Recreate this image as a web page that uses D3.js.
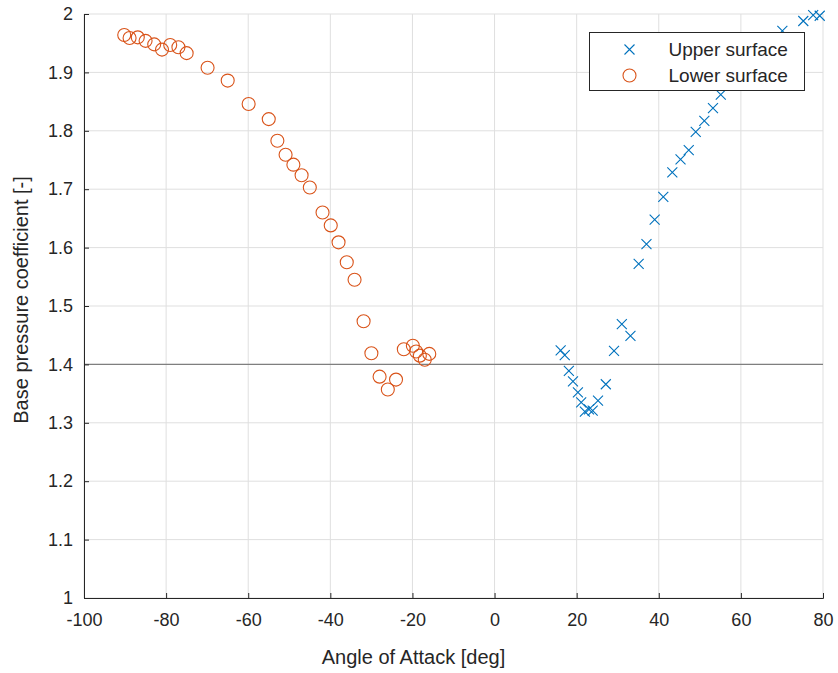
<!DOCTYPE html>
<html>
<head>
<meta charset="utf-8">
<script src="https://cdn.jsdelivr.net/npm/d3@7"></script>
<style>
  body { margin: 0; background: #fff; }
  text { font-family: "Liberation Sans", Arial, sans-serif; fill: #262626; }
</style>
</head>
<body>
<script>
'use strict';

// upper surface (crosses)
const upperAoa = [16.1, 17.1, 18.1, 19.1, 20.3, 21.1, 22.0, 23.0, 23.9, 25.2, 27.1, 29.1, 31.0, 33.1,
                  35.1, 37.0, 39.0, 41.1, 43.3, 45.3, 47.3, 49.0, 51.1, 53.2, 55.1, 57.0, 62.0, 66.0,
                  70.1, 75.2, 77.6, 79.2];
const upperCp  = [1.424, 1.416, 1.389, 1.371, 1.352, 1.335, 1.319, 1.323, 1.321, 1.338, 1.366, 1.423, 1.469, 1.449,
                  1.572, 1.606, 1.648, 1.687, 1.729, 1.751, 1.767, 1.798, 1.817, 1.839, 1.862, 1.88, 1.92, 1.945,
                  1.971, 1.988, 1.998, 1.997];

// lower surface (circles)
const lowerAoa = [-90.2, -88.9, -86.9, -85.0, -82.9, -81.0, -79.0, -77.0, -75.0, -69.9, -65.0, -59.9, -55.0,
                  -52.9, -50.9, -49.0, -47.0, -45.0, -41.9, -39.9, -38.0, -36.0, -34.1, -31.9, -30.0,
                  -28.0, -26.0, -24.0, -22.1, -19.9, -19.1, -18.2, -17.0, -15.9];
const lowerCp  = [1.964, 1.959, 1.960, 1.954, 1.948, 1.939, 1.947, 1.943, 1.933, 1.908, 1.886, 1.846, 1.820,
                  1.783, 1.759, 1.742, 1.724, 1.703, 1.660, 1.638, 1.609, 1.575, 1.545, 1.474, 1.419,
                  1.379, 1.357, 1.374, 1.426, 1.432, 1.422, 1.415, 1.408, 1.418];

const xTicks = [-100, -80, -60, -40, -20, 0, 20, 40, 60, 80];
const yTicks = [1, 1.1, 1.2, 1.3, 1.4, 1.5, 1.6, 1.7, 1.8, 1.9, 2];
const refLine = 1.4;
const seriesNames = ["Upper surface", "Lower surface"];

const W = 838, H = 673;
const margin = {top: 14, right: 15, bottom: 75, left: 84};
const width = W - margin.left - margin.right,
      height = H - margin.top - margin.bottom;

const blue = "#0072BD", orange = "#D95319";

const svg = d3.select("body").append("svg")
    .attr("width", W)
    .attr("height", H);

const g = svg.append("g")
    .attr("transform", `translate(${margin.left},${margin.top})`);

const x = d3.scaleLinear().domain([-100, 80]).range([0, width]);
const y = d3.scaleLinear().domain([1, 2]).range([height, 0]);

// grid
g.append("g").selectAll("line")
    .data(xTicks)
  .enter().append("line")
    .attr("x1", d => x(d)).attr("x2", d => x(d))
    .attr("y1", 0).attr("y2", height)
    .attr("stroke", "#dfdfdf").attr("stroke-width", 1);

g.append("g").selectAll("line")
    .data(yTicks)
  .enter().append("line")
    .attr("y1", d => y(d)).attr("y2", d => y(d))
    .attr("x1", 0).attr("x2", width)
    .attr("stroke", "#dfdfdf").attr("stroke-width", 1);

// reference line
g.append("line")
    .attr("x1", 0).attr("x2", width)
    .attr("y1", y(refLine)).attr("y2", y(refLine))
    .attr("stroke", "#7f7f7f").attr("stroke-width", 1.3);

// axes (plain hyphen for negatives, like the original)
const fmt = d => String(d);
const xAxis = g.append("g")
    .attr("transform", `translate(0,${height})`)
    .call(d3.axisBottom(x).tickValues(xTicks).tickSize(-5).tickPadding(12).tickFormat(fmt));
const yAxis = g.append("g")
    .call(d3.axisLeft(y).tickValues(yTicks).tickSize(-5).tickPadding(11).tickFormat(fmt));

[xAxis, yAxis].forEach(a => {
  a.select(".domain").attr("stroke", "#262626").attr("stroke-width", 1);
  a.selectAll(".tick line").attr("stroke", "#262626");
  a.selectAll(".tick text")
    .style("font-family", '"Liberation Sans", Arial, sans-serif')
    .style("font-size", "18px")
    .attr("fill", "#262626");
});
xAxis.selectAll(".tick text").attr("dy", "0.9em");

// upper surface crosses
const upper = upperAoa.map((a, i) => ({a: a, cp: upperCp[i]}));
const lower = lowerAoa.map((a, i) => ({a: a, cp: lowerCp[i]}));
const cs = 5;

g.append("g").selectAll("path")
    .data(upper)
  .enter().append("path")
    .attr("transform", d => `translate(${x(d.a)},${y(d.cp)})`)
    .attr("d", `M${-cs},${-cs}L${cs},${cs}M${-cs},${cs}L${cs},${-cs}`)
    .attr("stroke", blue).attr("stroke-width", 1.1).attr("fill", "none");

g.append("g").selectAll("circle")
    .data(lower)
  .enter().append("circle")
    .attr("cx", d => x(d.a)).attr("cy", d => y(d.cp))
    .attr("r", 6.5)
    .attr("stroke", orange).attr("stroke-width", 1.1).attr("fill", "none");

// axis labels
svg.append("text")
    .attr("x", margin.left + width / 2 - 40)
    .attr("y", 664)
    .attr("text-anchor", "middle")
    .style("font-size", "20px")
    .text("Angle of Attack [deg]");

svg.append("text")
    .attr("transform", `translate(28,${margin.top + height / 2 - 6}) rotate(-90)`)
    .attr("text-anchor", "middle")
    .style("font-size", "20px")
    .text("Base pressure coefficient [-]");

// legend
const lg = svg.append("g").attr("transform", "translate(589.5,32.5)");
lg.append("rect")
    .attr("width", 215).attr("height", 58)
    .attr("fill", "#fff").attr("stroke", "#262626").attr("stroke-width", 1);

const rows = lg.selectAll(".row")
    .data(seriesNames)
  .enter().append("g")
    .attr("transform", (d, i) => `translate(0,${17 + i * 26})`);

rows.filter((d, i) => i === 0).append("path")
    .attr("transform", "translate(40,0)")
    .attr("d", `M${-cs},${-cs}L${cs},${cs}M${-cs},${cs}L${cs},${-cs}`)
    .attr("stroke", blue).attr("stroke-width", 1.1);
rows.filter((d, i) => i === 1).append("circle")
    .attr("cx", 40).attr("r", 6.5)
    .attr("fill", "none").attr("stroke", orange).attr("stroke-width", 1.1);

rows.append("text")
    .attr("x", 79)
    .attr("dy", "0.35em")
    .style("font-size", "19px")
    .text(d => d);
</script>
</body>
</html>
